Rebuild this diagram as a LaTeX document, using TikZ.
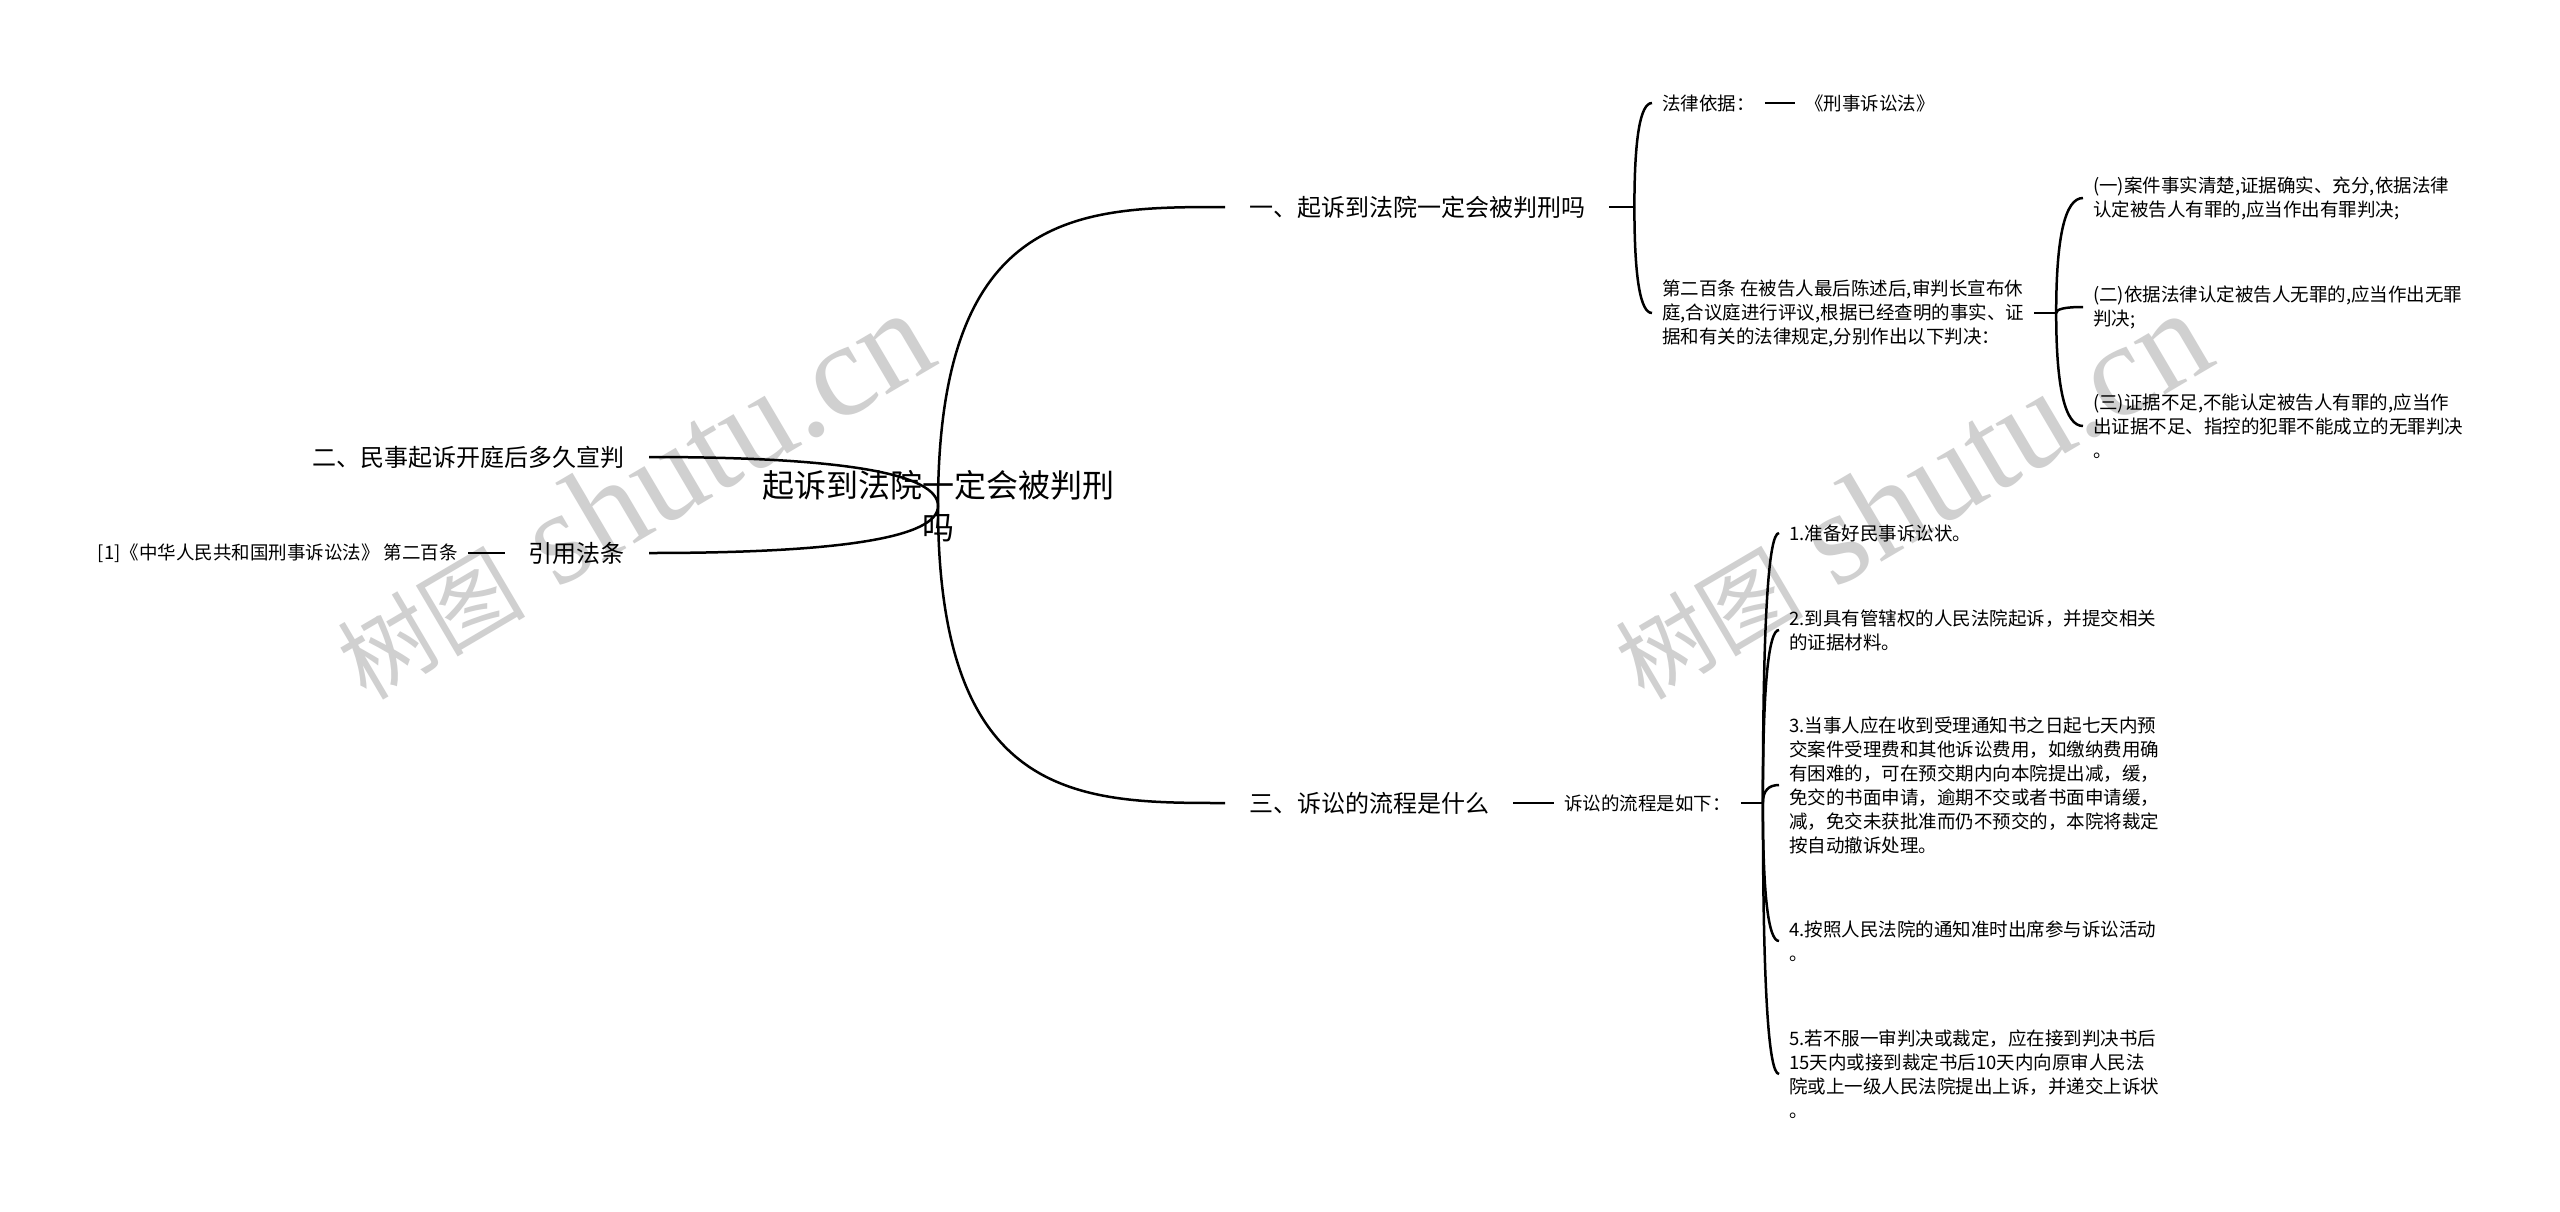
\documentclass[tikz,border=0pt]{standalone}
\usepackage{fontspec}
\setmainfont{Noto Sans CJK SC}
\newfontfamily\wmlatin{Liberation Serif}
\usetikzlibrary{calc}
\definecolor{wmgray}{RGB}{208,208,208}
\begin{document}
\begin{tikzpicture}[x=1pt,y=-1pt,
  conn/.style={line width=2.5pt, black},
  rootn/.style={font=\fontsize{32}{42}\selectfont, align=center, inner sep=0pt},
  mainn/.style={font=\fontsize{24}{30}\selectfont, inner xsep=24pt, inner ysep=0pt},
  leaf/.style={font=\fontsize{18.5}{24}\selectfont, align=left, inner xsep=10pt, inner ysep=0pt},
  wmark/.style={font=\fontsize{94}{94}\selectfont, text=wmgray, rotate=30.5, inner sep=0pt, anchor=base west}
]
\useasboundingbox (0,0) rectangle (2560,1211);
\fill[white] (0,0) rectangle (2560,1211);

% watermarks
\node[wmark] (wm1) at (366,702) {树图{\wmlatin\fontsize{133}{133}\selectfont\ shutu.cn}};
\node[wmark] (wm2) at (1644,702) {树图{\wmlatin\fontsize{133}{133}\selectfont\ shutu.cn}};

% root and main branches
\node[rootn] (root) at (938,506) {起诉到法院一定会被判刑\\吗};
\node[mainn, anchor=west] (b1) at (1225,207) {一、起诉到法院一定会被判刑吗};
\node[mainn, anchor=west] (b3) at (1225,803) {三、诉讼的流程是什么};
\node[mainn, anchor=east] (b2) at (649,457) {二、民事起诉开庭后多久宣判};
\node[mainn, anchor=east] (cite) at (649,553) {引用法条};
\node[leaf, anchor=east] (ref) at (468,553) {[1]《中华人民共和国刑事诉讼法》 第二百条};

% branch one children
\node[leaf, anchor=west] (a1) at (1652,103) {法律依据：};
\node[leaf, anchor=west] (a1x) at (1795,103) {《刑事诉讼法》};
\node[leaf, anchor=west] (a2) at (1652,313) {第二百条 在被告人最后陈述后,审判长宣布休\\庭,合议庭进行评议,根据已经查明的事实、证\\据和有关的法律规定,分别作出以下判决：};
\node[leaf, anchor=west] (d1) at (2083,198) {(一)案件事实清楚,证据确实、充分,依据法律\\认定被告人有罪的,应当作出有罪判决;};
\node[leaf, anchor=west] (d2) at (2083,307) {(二)依据法律认定被告人无罪的,应当作出无罪\\判决;};
\node[leaf, anchor=west] (d3) at (2083,426) {(三)证据不足,不能认定被告人有罪的,应当作\\出证据不足、指控的犯罪不能成立的无罪判决\\。};

% branch three children
\node[leaf, anchor=west] (c3) at (1554,803) {诉讼的流程是如下：};
\node[leaf, anchor=west] (e1) at (1779,533) {1.准备好民事诉讼状。};
\node[leaf, anchor=west] (e2) at (1779,630) {2.到具有管辖权的人民法院起诉，并提交相关\\的证据材料。};
\node[leaf, anchor=west] (e3) at (1779,785) {3.当事人应在收到受理通知书之日起七天内预\\交案件受理费和其他诉讼费用，如缴纳费用确\\有困难的，可在预交期内向本院提出减，缓，\\免交的书面申请，逾期不交或者书面申请缓，\\减，免交未获批准而仍不预交的，本院将裁定\\按自动撤诉处理。};
\node[leaf, anchor=west] (e4) at (1779,941) {4.按照人民法院的通知准时出席参与诉讼活动\\。};
\node[leaf, anchor=west] (e5) at (1779,1074) {5.若不服一审判决或裁定，应在接到判决书后\\15天内或接到裁定书后10天内向原审人民法\\院或上一级人民法院提出上诉，并递交上诉状\\。};

% junctions
\coordinate (j1) at ($(b1.east)+(25,0)$);
\coordinate (j2) at ($(a2.east)+(22,0)$);
\coordinate (j3) at ($(c3.east)+(22,0)$);

% root connectors
\draw[conn] (root.center) .. controls (root.center|-b1.west) and ($(root.center|-b1.west)!0.5!(b1.west)$) .. (b1.west);
\draw[conn] (root.center) .. controls (root.center|-b3.west) and ($(root.center|-b3.west)!0.5!(b3.west)$) .. (b3.west);
\draw[conn] (root.center) .. controls ($(root.center)!0.667!(root.center|-b2.east)$) and ($(b2.east)!0.667!(root.center|-b2.east)$) .. (b2.east);
\draw[conn] (root.center) .. controls ($(root.center)!0.667!(root.center|-cite.east)$) and ($(cite.east)!0.667!(root.center|-cite.east)$) .. (cite.east);

% straight connectors
\draw[conn] (ref.east) -- (cite.west);
\draw[conn] (b1.east) -- (j1);
\draw[conn] (a2.east) -- (j2);
\draw[conn] (b3.east) -- (c3.west);
\draw[conn] (c3.east) -- (j3);
\draw[conn] (a1.east) -- (a1x.west);

% bracket connectors
\foreach \j/\c in {j1/a1, j1/a2, j2/d1, j2/d2, j2/d3, j3/e1, j3/e2, j3/e3, j3/e4, j3/e5}{
  \draw[conn] (\j) .. controls ($(\j)!0.667!(\j|-\c.west)$) and ($(\c.west)!0.667!(\j|-\c.west)$) .. (\c.west);
}
\end{tikzpicture}
\end{document}
